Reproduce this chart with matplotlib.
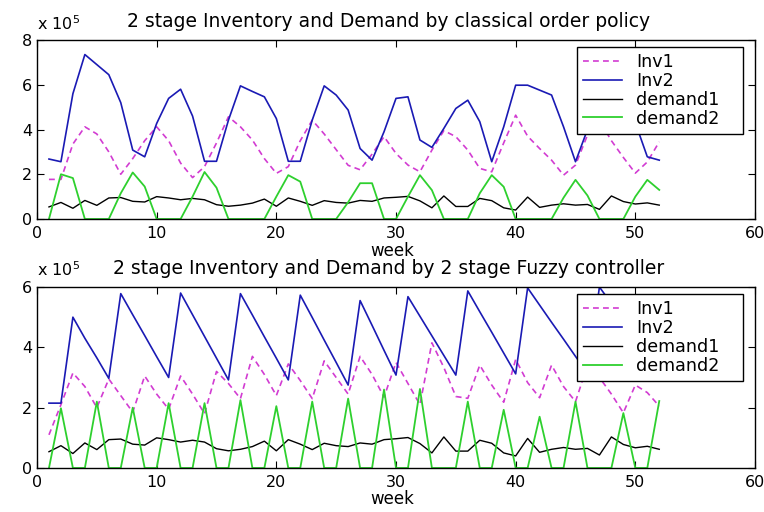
import matplotlib
matplotlib.use("Agg")
import matplotlib.pyplot as plt

# ---------------- data (values in units of 1e5) ----------------
weeks = list(range(1, 53))

inv1_classic = [1.77, 1.77, 3.35, 4.12, 3.8, 3.0, 2.0, 2.7, 3.5, 4.12,
                3.5, 2.5, 1.85, 2.34, 3.4, 4.57, 4.12, 3.53, 2.7, 2.04,
                2.34, 3.5, 4.42, 3.8, 3.1, 2.4, 2.2, 2.9, 3.68, 2.93,
                2.41, 2.11, 3.08, 3.95, 3.68, 3.08, 2.26, 2.11, 3.4, 4.64,
                3.7, 3.15, 2.63, 1.96, 2.41, 3.75, 4.4, 3.5, 2.75, 2.05,
                2.55, 3.45]
inv2_classic = [2.68, 2.56, 5.6, 7.35, 6.9, 6.45, 5.2, 3.08, 2.78, 4.27,
                5.39, 5.8, 4.6, 2.58, 2.58, 4.42, 5.95, 5.7, 5.46, 4.49,
                2.58, 2.58, 4.42, 5.95, 5.54, 4.87, 3.15, 2.63, 3.9, 5.39,
                5.46, 3.53, 3.2, 4.05, 4.94, 5.31, 4.35, 2.56, 4.12, 5.98,
                5.98, 5.76, 5.54, 4.12, 2.56, 4.0, 5.9, 5.7, 5.4, 4.3,
                2.78, 2.63]
demand1 = [0.54, 0.74, 0.48, 0.83, 0.61, 0.94, 0.96, 0.79, 0.76, 1.0,
           0.94, 0.86, 0.92, 0.86, 0.64, 0.57, 0.62, 0.71, 0.89, 0.57,
           0.94, 0.79, 0.61, 0.82, 0.74, 0.71, 0.83, 0.79, 0.94, 0.97,
           1.01, 0.81, 0.5, 1.03, 0.56, 0.56, 0.92, 0.82, 0.5, 0.4,
           0.98, 0.52, 0.62, 0.68, 0.62, 0.65, 0.43, 1.03, 0.78, 0.67,
           0.72, 0.62]
demand2_classic = [0, 2.0, 1.83, 0, 0, 0, 1.15, 2.08, 1.45, 0,
                   0, 0, 1.0, 2.1, 1.4, 0, 0, 0, 0, 1.0,
                   1.96, 1.67, 0, 0, 0, 0.75, 1.6, 1.6, 0, 0,
                   1.0, 1.96, 1.29, 0, 0, 0, 1.15, 1.96, 1.44, 0,
                   0, 0, 0, 0.95, 1.75, 1.05, 0, 0, 0, 1.0,
                   1.75, 1.3]

inv1_fuzzy = [1.1, 2.1, 3.15, 2.7, 2.0, 2.95, 2.4, 1.85, 3.05, 2.45,
              1.95, 3.05, 2.45, 1.8, 3.2, 2.8, 2.3, 3.7, 3.1, 2.4,
              3.45, 2.9, 2.3, 3.55, 3.0, 2.45, 3.7, 3.1, 2.35, 3.5,
              2.8, 2.1, 4.15, 3.33, 2.37, 2.31, 3.41, 2.75, 2.18, 3.6,
              2.83, 2.33, 3.41, 2.7, 2.2, 3.4, 3.0, 2.45, 1.83, 2.75,
              2.5, 2.05]
inv2_fuzzy = [2.15, 2.15, 5.0, 4.3, 3.65, 2.97, 5.78, 5.08, 4.39, 3.69,
              3.0, 5.8, 5.08, 4.36, 3.64, 2.92, 5.78, 5.07, 4.35, 3.64,
              2.92, 5.73, 4.99, 4.24, 3.5, 2.75, 5.55, 4.73, 3.9, 3.08,
              5.68, 5.03, 4.38, 3.73, 3.08, 5.87, 5.18, 4.5, 3.81, 3.12,
              5.97, 5.4, 4.83, 4.27, 3.7, 3.15, 6.0, 5.45, 4.9, 4.35,
              3.8, 3.25]
demand2_fuzzy = [0, 1.98, 0, 0, 2.2, 0, 0, 2.0, 0, 0,
                 2.15, 0, 0, 2.15, 0, 0, 2.25, 0, 0, 2.05,
                 0, 0, 2.2, 0, 0, 2.3, 0, 0, 2.6, 0,
                 0, 2.62, 0, 0, 0, 2.2, 0, 0, 1.93, 0,
                 0, 1.7, 0, 0, 2.2, 0, 0, 0, 1.82, 0,
                 0, 2.22]

titles = ["2 stage Inventory and Demand by classical order policy",
          "2 stage Inventory and Demand by 2 stage Fuzzy controller"]
legend_labels = ["Inv1", "Inv2", "demand1", "demand2"]
xlabel = "week"
scale_label = "x 10$^5$"
xticks = [0, 10, 20, 30, 40, 50, 60]
yticks_top = [0, 2, 4, 6, 8]
yticks_bottom = [0, 2, 4, 6]

# ---------------- styling ----------------
plt.rcParams["font.family"] = ["DejaVu Sans"]
plt.rcParams["mathtext.fontset"] = "dejavusans"
C_INV1 = "#d23cd2"
C_INV2 = "#1a1ab4"
C_D1 = "#000000"
C_D2 = "#2ed02e"

fig = plt.figure(figsize=(7.64, 5.12), dpi=100, facecolor="white")
W, H = 764.0, 512.0


def make_axes(left, top, right, bottom):
    return fig.add_axes([left / W, 1 - bottom / H, (right - left) / W, (bottom - top) / H])


ax1 = make_axes(37, 40, 755, 219)
ax2 = make_axes(37, 287, 755, 468)

panels = [
    (ax1, inv1_classic, inv2_classic, demand1, demand2_classic, yticks_top, titles[0]),
    (ax2, inv1_fuzzy, inv2_fuzzy, demand1, demand2_fuzzy, yticks_bottom, titles[1]),
]

for ax, i1, i2, d1, d2, yt, title in panels:
    ax.plot(weeks, i1, color=C_INV1, lw=1.2, dashes=(3.5, 2.5), label=legend_labels[0])
    ax.plot(weeks, i2, color=C_INV2, lw=1.2, label=legend_labels[1])
    ax.plot(weeks, d1, color=C_D1, lw=1.0, label=legend_labels[2])
    ax.plot(weeks, d2, color=C_D2, lw=1.3, label=legend_labels[3])
    ax.set_xlim(xticks[0], xticks[-1])
    ax.set_ylim(yt[0], yt[-1])
    ax.set_xticks(xticks)
    ax.set_yticks(yt)
    ax.tick_params(direction="in", top=True, right=True, length=5, width=0.8,
                   labelsize=11.5, colors="black")
    ax.tick_params(axis="x", pad=5)
    for sp in ax.spines.values():
        sp.set_linewidth(1.0)
        sp.set_color("black")
    hpx = ax.get_position().height * H
    ax.text(0.49, 1 + 13.0 / hpx, title, transform=ax.transAxes, ha="center",
            va="baseline", fontsize=13.5)
    ax.text(0.0, 1 + 10.5 / hpx, scale_label, transform=ax.transAxes, ha="left",
            va="baseline", fontsize=11.5)
    ax.text(0.495, -36.5 / hpx, xlabel, transform=ax.transAxes, ha="center",
            va="baseline", fontsize=12)
    leg = ax.legend(loc="upper left", bbox_to_anchor=(0.752, 0.48, 0.231, 0.482),
                    mode="expand", borderaxespad=0,
                    fancybox=False, edgecolor="black", framealpha=1, fontsize=12.6,
                    handlelength=2.2, handletextpad=0.85, labelspacing=0.05,
                    borderpad=0.35)
    leg.get_frame().set_linewidth(1.0)

fig.savefig("out.png", dpi=100, facecolor="white")
